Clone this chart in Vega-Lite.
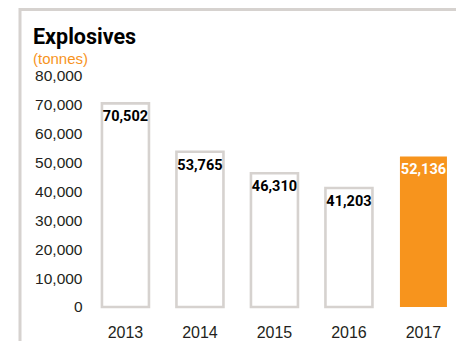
{
  "$schema": "https://vega.github.io/schema/vega-lite/v6.json",
  "width": 494,
  "height": 350,
  "autosize": {"type": "none"},
  "padding": {"left": 20, "top": 9.5, "right": -58, "bottom": -18.5},
  "background": "white",
  "config": {
    "view": {"stroke": "#d6d2cf", "strokeWidth": 3, "fill": "white"},
    "font": "Liberation Sans"
  },
  "title": {
    "text": "Explosives",
    "subtitle": "(tonnes)",
    "anchor": "start",
    "frame": "group",
    "offset": -57,
    "dx": 13,
    "font": "Roboto",
    "fontSize": 21.5,
    "fontWeight": "bold",
    "color": "#000000",
    "subtitleFont": "Liberation Sans",
    "subtitleFontSize": 15,
    "subtitleColor": "#f7941d",
    "subtitlePadding": 3
  },
  "data": {
    "values": [
      {"year": 2013, "tonnes": 70502},
      {"year": 2014, "tonnes": 53765},
      {"year": 2015, "tonnes": 46310},
      {"year": 2016, "tonnes": 41203},
      {"year": 2017, "tonnes": 52136}
    ]
  },
  "encoding": {
    "x": {
      "field": "year",
      "type": "ordinal",
      "scale": {"paddingInner": 0.369, "paddingOuter": 1, "align": 0.55},
      "axis": {
        "title": null,
        "orient": "bottom",
        "offset": -52.5,
        "ticks": false,
        "domain": false,
        "labelAngle": 0,
        "labelPadding": 30,
        "labelBaseline": "alphabetic",
        "labelFont": "Liberation Sans",
        "labelFontSize": 16,
        "labelColor": "#231f20"
      }
    },
    "y": {
      "field": "tonnes",
      "type": "quantitative",
      "scale": {"domain": [-18182, 103030], "nice": false, "zero": false},
      "axis": {
        "title": null,
        "values": [0, 10000, 20000, 30000, 40000, 50000, 60000, 70000, 80000],
        "format": ",.0f",
        "offset": -62,
        "ticks": false,
        "domain": false,
        "grid": false,
        "labelPadding": 0,
        "labelFont": "Liberation Sans",
        "labelFontSize": 15.5,
        "labelColor": "#231f20"
      }
    }
  },
  "layer": [
    {
      "mark": {"type": "bar"},
      "encoding": {
        "y2": {"datum": 0},
        "fill": {
          "condition": {"test": "datum.year == 2017", "value": "#f7941d"},
          "value": "#ffffff"
        },
        "stroke": {"value": "#d6d2cf"},
        "strokeWidth": {
          "condition": {"test": "datum.year == 2017", "value": 0},
          "value": 2.6
        }
      }
    },
    {
      "mark": {
        "type": "text",
        "baseline": "top",
        "dy": 7,
        "font": "Roboto",
        "fontWeight": "bold",
        "fontSize": 14.5
      },
      "encoding": {
        "text": {"field": "tonnes", "type": "quantitative", "format": ",.0f"},
        "color": {
          "condition": {"test": "datum.year == 2017", "value": "#ffffff"},
          "value": "#000000"
        }
      }
    }
  ]
}
